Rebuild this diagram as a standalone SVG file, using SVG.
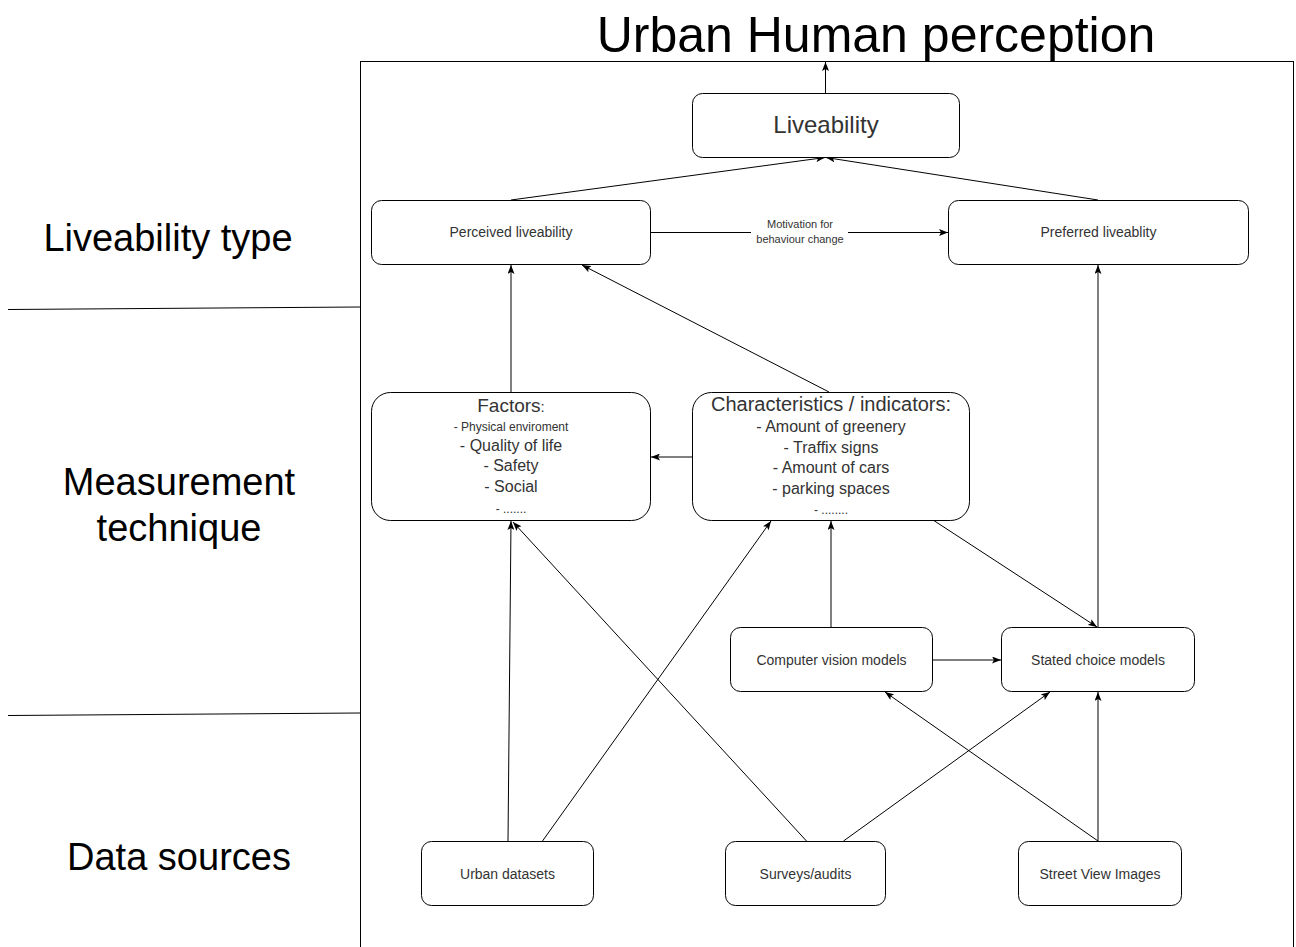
<svg xmlns="http://www.w3.org/2000/svg" width="1296" height="947" viewBox="0 0 1296 947">
<style>
  text { font-family: "Liberation Sans", Arial, Helvetica, sans-serif; }
  .box { fill: #ffffff; stroke: #000000; stroke-width: 1; }
  .lane { fill: none; stroke: #000000; stroke-width: 1; }
  .conn { fill: none; stroke: #000000; stroke-width: 1; marker-end: url(#arrow); }
  .nt { fill: #333333; font-size: 14px; text-anchor: middle; }
  .lbl { fill: #000000; font-size: 38px; text-anchor: middle; }
  .li { fill: #333333; font-size: 16px; text-anchor: middle; }
  .sm { fill: #333333; font-size: 12px; text-anchor: middle; }
  .edge { fill: #333333; font-size: 11px; text-anchor: middle; }
</style>
<defs>
  <marker id="arrow" viewBox="0 0 9 7" refX="9" refY="3.5" markerWidth="9" markerHeight="7" markerUnits="userSpaceOnUse" orient="auto">
    <path d="M0,0 L9,3.5 L0,7 L2,3.5 Z" fill="#000000"/>
  </marker>
</defs>
<rect width="1296" height="947" fill="#ffffff"/>

<g id="frame">
  <rect class="lane" x="360.5" y="61.5" width="933" height="900"/>
  <line class="lane" x1="8" y1="309.5" x2="360" y2="307"/>
  <line class="lane" x1="8" y1="715.5" x2="360" y2="713"/>
  <text x="876" y="52" font-size="50" text-anchor="middle" fill="#000000">Urban Human perception</text>
  <text class="lbl" x="168" y="251">Liveability type</text>
  <text class="lbl" x="179" y="495">Measurement</text>
  <text class="lbl" x="179" y="541">technique</text>
  <text class="lbl" x="179" y="870">Data sources</text>
</g>

<g id="connectors">
  <path class="conn" d="M825.5,93 L825.5,62"/>
  <path class="conn" d="M511,200 L825,157.5"/>
  <path class="conn" d="M1098,200 L826,157.5"/>
  <path class="conn" d="M651,232.5 L948,232.5"/>
  <rect x="751" y="216" width="97" height="31" fill="#ffffff"/>
  <text class="edge" x="800" y="228">Motivation for</text>
  <text class="edge" x="800" y="243">behaviour change</text>
  <path class="conn" d="M511,392 L511,265"/>
  <path class="conn" d="M829,392 L582,265"/>
  <path class="conn" d="M692,457 L651,457"/>
  <path class="conn" d="M831,627 L831,521"/>
  <path class="conn" d="M933,520 L1097,627"/>
  <path class="conn" d="M1098,627 L1098,265"/>
  <path class="conn" d="M932,660 L1001,660"/>
  <path class="conn" d="M508,841 L511,521"/>
  <path class="conn" d="M542.5,841 L771,521"/>
  <path class="conn" d="M806.5,841 L513,522"/>
  <path class="conn" d="M843.5,841 L1050,692"/>
  <path class="conn" d="M1098,841 L885,692"/>
  <path class="conn" d="M1098,841 L1098,692"/>
</g>

<g id="liveability">
  <rect class="box" x="692.5" y="93.5" width="267" height="64" rx="10"/>
  <text x="826" y="133" font-size="24" text-anchor="middle" fill="#333333">Liveability</text>
</g>

<g id="perceived">
  <rect class="box" x="371.5" y="200.5" width="279" height="64" rx="10"/>
  <text class="nt" x="511" y="237">Perceived liveability</text>
</g>

<g id="preferred">
  <rect class="box" x="948.5" y="200.5" width="300" height="64" rx="10"/>
  <text class="nt" x="1098.5" y="237">Preferred liveablity</text>
</g>

<g id="factors">
  <rect class="box" x="371.5" y="392.5" width="279" height="128" rx="19"/>
  <text x="511" y="412" text-anchor="middle" fill="#333333"><tspan font-size="19">Factors</tspan><tspan font-size="15">:</tspan></text>
  <text class="sm" x="511" y="431">- Physical enviroment</text>
  <text class="li" x="511" y="451">- Quality of life</text>
  <text class="li" x="511" y="471">- Safety</text>
  <text class="li" x="511" y="492">- Social</text>
  <text class="sm" x="511" y="513">- .......</text>
</g>

<g id="characteristics">
  <rect class="box" x="692.5" y="392.5" width="277" height="128" rx="19"/>
  <text x="831" y="411" font-size="20" text-anchor="middle" fill="#333333">Characteristics / indicators:</text>
  <text class="li" x="831" y="432">- Amount of greenery</text>
  <text class="li" x="831" y="453">- Traffix signs</text>
  <text class="li" x="831" y="473">- Amount of cars</text>
  <text class="li" x="831" y="494">- parking spaces</text>
  <text class="sm" x="831" y="514">- ........</text>
</g>

<g id="computer-vision">
  <rect class="box" x="730.5" y="627.5" width="202" height="64" rx="10"/>
  <text class="nt" x="831.5" y="664.5">Computer vision models</text>
</g>

<g id="stated-choice">
  <rect class="box" x="1001.5" y="627.5" width="193" height="64" rx="10"/>
  <text class="nt" x="1098" y="664.5">Stated choice models</text>
</g>

<g id="urban-datasets">
  <rect class="box" x="421.5" y="841.5" width="172" height="64" rx="10"/>
  <text class="nt" x="507.5" y="878.5">Urban datasets</text>
</g>

<g id="surveys">
  <rect class="box" x="725.5" y="841.5" width="160" height="64" rx="10"/>
  <text class="nt" x="805.5" y="878.5">Surveys/audits</text>
</g>

<g id="street-view">
  <rect class="box" x="1018.5" y="841.5" width="163" height="64" rx="10"/>
  <text class="nt" x="1100" y="878.5">Street View Images</text>
</g>
</svg>
